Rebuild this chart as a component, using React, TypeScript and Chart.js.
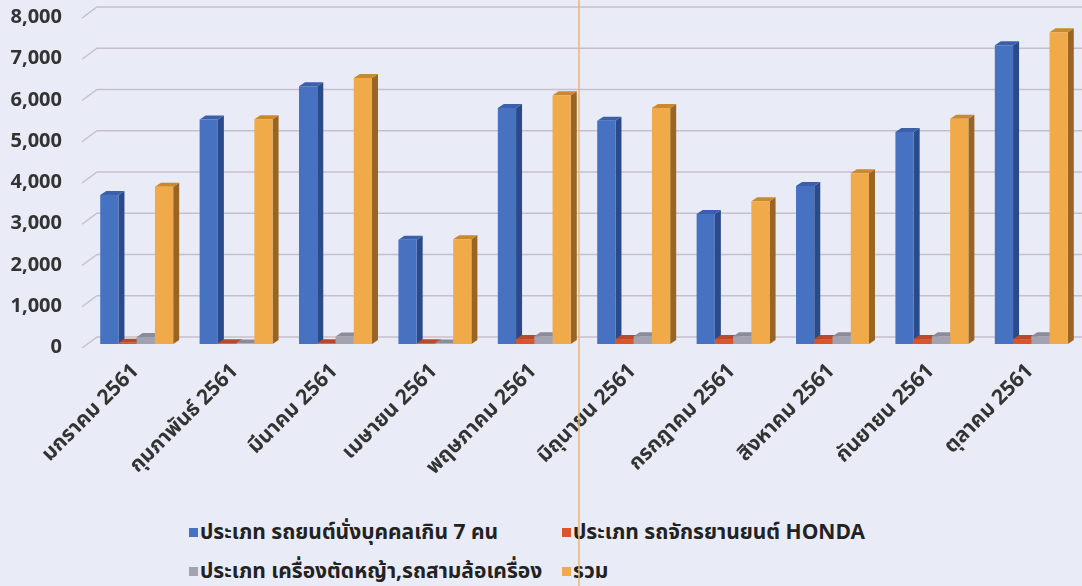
import React, { useEffect, useRef } from "react";
import { Chart, registerables } from "chart.js";

Chart.register(...registerables);

const categories = [
  "มกราคม 2561",
  "กุมภาพันธ์ 2561",
  "มีนาคม 2561",
  "เมษายน 2561",
  "พฤษภาคม 2561",
  "มิถุนายน 2561",
  "กรกฎาคม 2561",
  "สิงหาคม 2561",
  "กันยายน 2561",
  "ตุลาคม 2561",
];

const seriesNames = [
  "ประเภท รถยนต์นั่งบุคคลเกิน 7 คน",
  "ประเภท รถจักรยานยนต์ HONDA",
  "ประเภท เครื่องตัดหญ้า,รถสามล้อเครื่อง",
  "รวม",
];

const carValues = [3610, 5440, 6250, 2530, 5720, 5410, 3150, 3830, 5140, 7240];
const hondaValues = [30, 20, 20, 20, 120, 120, 120, 120, 120, 120];
const mowerValues = [170, 10, 180, 10, 190, 190, 190, 190, 190, 190];
const totalValues = [3810, 5450, 6450, 2540, 6030, 5720, 3460, 4140, 5460, 7560];

const yTicks = [0, 1000, 2000, 3000, 4000, 5000, 6000, 7000, 8000];

const frontColors = ["#4771c1", "#d9562c", "#a3a2b1", "#f0aa4a"];
const sideColors = ["#2a4a8a", "#9c3a1c", "#757485", "#9a6522"];
const capColors = ["#3a60aa", "#b8492a", "#8c8b9b", "#c8892f"];

const FONT = "Tahoma, 'Noto Sans Thai', 'Leelawadee UI', 'DejaVu Sans', 'Noto Sans', sans-serif";

const DX = 6;
const DY = 4;

const bar3dPlugin = {
  id: "bar3d",
  beforeDatasetsDraw(chart: any) {
    const ctx = chart.ctx;
    const yScale = chart.scales.y;
    const area = chart.chartArea;
    ctx.save();
    ctx.strokeStyle = "#c8bfcd";
    ctx.lineWidth = 1.5;
    yTicks.forEach((v) => {
      const sy = yScale.getPixelForValue(v);
      ctx.beginPath();
      ctx.moveTo(area.left - 5, sy + 4);
      ctx.lineTo(area.left + 10, sy - 7);
      ctx.lineTo(chart.width, sy - 7);
      ctx.stroke();
    });
    const n = chart.data.labels.length;
    for (let i = 0; i < n; i++) {
      chart.data.datasets.forEach((_: any, d: number) => {
        const el = chart.getDatasetMeta(d).data[i];
        if (!el) return;
        const p = el.getProps(["x", "y", "base", "width"], true);
        const x0 = p.x - p.width / 2;
        const x1 = p.x + p.width / 2;
        const yt = p.y;
        const yb = p.base;
        ctx.fillStyle = sideColors[d];
        ctx.beginPath();
        ctx.moveTo(x1, yt);
        ctx.lineTo(x1 + DX, yt - DY);
        ctx.lineTo(x1 + DX, yb - DY);
        ctx.lineTo(x1, yb);
        ctx.closePath();
        ctx.fill();
        ctx.fillStyle = capColors[d];
        ctx.beginPath();
        ctx.moveTo(x0, yt);
        ctx.lineTo(x1, yt);
        ctx.lineTo(x1 + DX, yt - DY);
        ctx.lineTo(x0 + DX, yt - DY);
        ctx.closePath();
        ctx.fill();
      });
    }
    ctx.restore();
  },
};

export default function App() {
  const canvasRef = useRef<HTMLCanvasElement>(null);

  useEffect(() => {
    document.body.style.margin = "0";
    const canvas = canvasRef.current;
    if (!canvas) return;
    const valueSets = [carValues, hondaValues, mowerValues, totalValues];
    const chart = new Chart(canvas, {
      type: "bar",
      data: {
        labels: categories,
        datasets: seriesNames.map((name, i) => ({
          label: name,
          data: valueSets[i],
          backgroundColor: frontColors[i],
          borderWidth: 0,
          barPercentage: 1,
          categoryPercentage: 0.734,
        })),
      },
      options: {
        responsive: false,
        animation: false,
        maintainAspectRatio: false,
        layout: { padding: { top: 14, right: 1, left: 0, bottom: 0 } },
        plugins: {
          legend: { display: false },
          tooltip: { enabled: false },
        },
        scales: {
          x: {
            grid: { display: false, drawTicks: false },
            border: { display: false },
            ticks: {
              autoSkip: false,
              minRotation: 45,
              maxRotation: 45,
              padding: 16,
              color: "#333333",
              font: { family: FONT, size: 21, weight: "bold" },
            },
            afterFit: (s: any) => {
              s.height = 166;
              s.paddingLeft = 0;
              s.paddingRight = 0;
            },
          },
          y: {
            min: 0,
            max: 8000,
            grid: { display: false, drawTicks: false },
            border: { display: false },
            ticks: {
              stepSize: 1000,
              padding: 25,
              labelOffset: 5,
              color: "#333333",
              font: { family: FONT, size: 20, weight: "bold" },
              callback: (v: any) => Number(v).toLocaleString("en-US"),
            },
            afterFit: (s: any) => {
              s.width = 87;
              s.paddingTop = 0;
              s.paddingBottom = 0;
            },
          },
        },
      },
      plugins: [bar3dPlugin],
    });
    return () => chart.destroy();
  }, []);

  const legendPos = [
    { left: 189, top: 519 },
    { left: 562, top: 519 },
    { left: 189, top: 558 },
    { left: 562, top: 558 },
  ];

  return (
    <div
      style={{
        position: "relative",
        width: 1082,
        height: 586,
        background: "#e9ebf6",
        overflow: "hidden",
        fontFamily: FONT,
      }}
    >
      <canvas ref={canvasRef} width={1082} height={510} style={{ display: "block" }} />
      {seriesNames.map((name, i) => (
        <div
          key={name}
          style={{
            position: "absolute",
            left: legendPos[i].left,
            top: legendPos[i].top,
            height: 26,
            display: "flex",
            alignItems: "center",
            fontSize: 21,
            fontWeight: "bold",
            color: "#222222",
            whiteSpace: "nowrap",
          }}
        >
          <span
            style={{
              display: "inline-block",
              width: 9,
              height: 9,
              background: frontColors[i],
              marginRight: 2,
            }}
          />
          {name}
        </div>
      ))}
      <div
        style={{
          position: "absolute",
          left: 578,
          top: 0,
          width: 2,
          height: 586,
          background: "rgba(235,180,110,0.75)",
        }}
      />
    </div>
  );
}
